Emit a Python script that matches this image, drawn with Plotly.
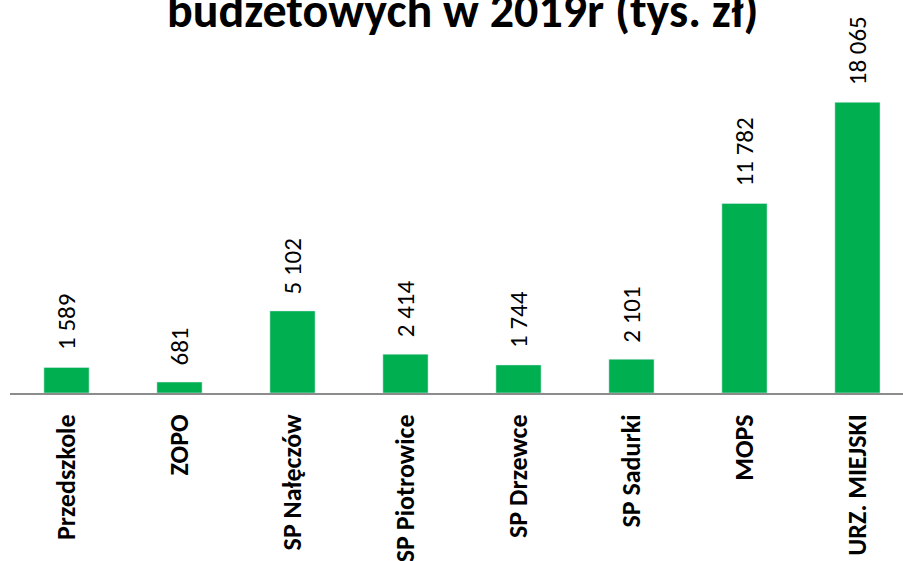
import plotly.graph_objects as go

categories = ["Przedszkole", "ZOPO", "SP Nałęczów", "SP Piotrowice", "SP Drzewce",
              "SP Sadurki", "MOPS", "URZ. MIEJSKI"]
values = [1589, 681, 5102, 2414, 1744, 2101, 11782, 18065]
labels = ["1 589", "681", "5 102", "2 414", "1 744", "2 101", "11 782", "18 065"]
title_text = "budzetowych w 2019r (tys. zł)"

FONT = "Carlito, Calibri, Lato"

fig = go.Figure()
fig.add_trace(go.Bar(
    x=categories, y=values,
    marker=dict(color="#00B050"), width=0.4, hoverinfo="skip",
))

for c, v, t in zip(categories, values, labels):
    fig.add_annotation(x=c, y=v, text=t, textangle=-90, showarrow=False,
                       xanchor="center", yanchor="bottom", yshift=15,
                       font=dict(family=FONT, size=25, color="black"))

fig.add_annotation(text=title_text, xref="paper", yref="paper", x=0.507, y=1,
                   xanchor="center", yanchor="top", yshift=21, showarrow=False,
                   font=dict(family=FONT, size=48, color="black", weight="bold"))

fig.update_layout(
    width=903, height=561,
    margin=dict(l=10, r=0, t=0, b=168),
    paper_bgcolor="white", plot_bgcolor="white",
    showlegend=False,
    xaxis=dict(range=[-0.5, 7.403], showline=True, linecolor="#8c8c8c", linewidth=2,
               tickangle=-90, ticks="", ticklabelstandoff=9, automargin=False,
               tickfont=dict(family=FONT, size=26, color="black", weight="bold")),
    yaxis=dict(range=[0, 24420], visible=False, showgrid=False, zeroline=False,
               automargin=False),
)

fig.write_html("out.html", config={"displayModeBar": False},
               post_script="document.body.style.margin='0px';")
